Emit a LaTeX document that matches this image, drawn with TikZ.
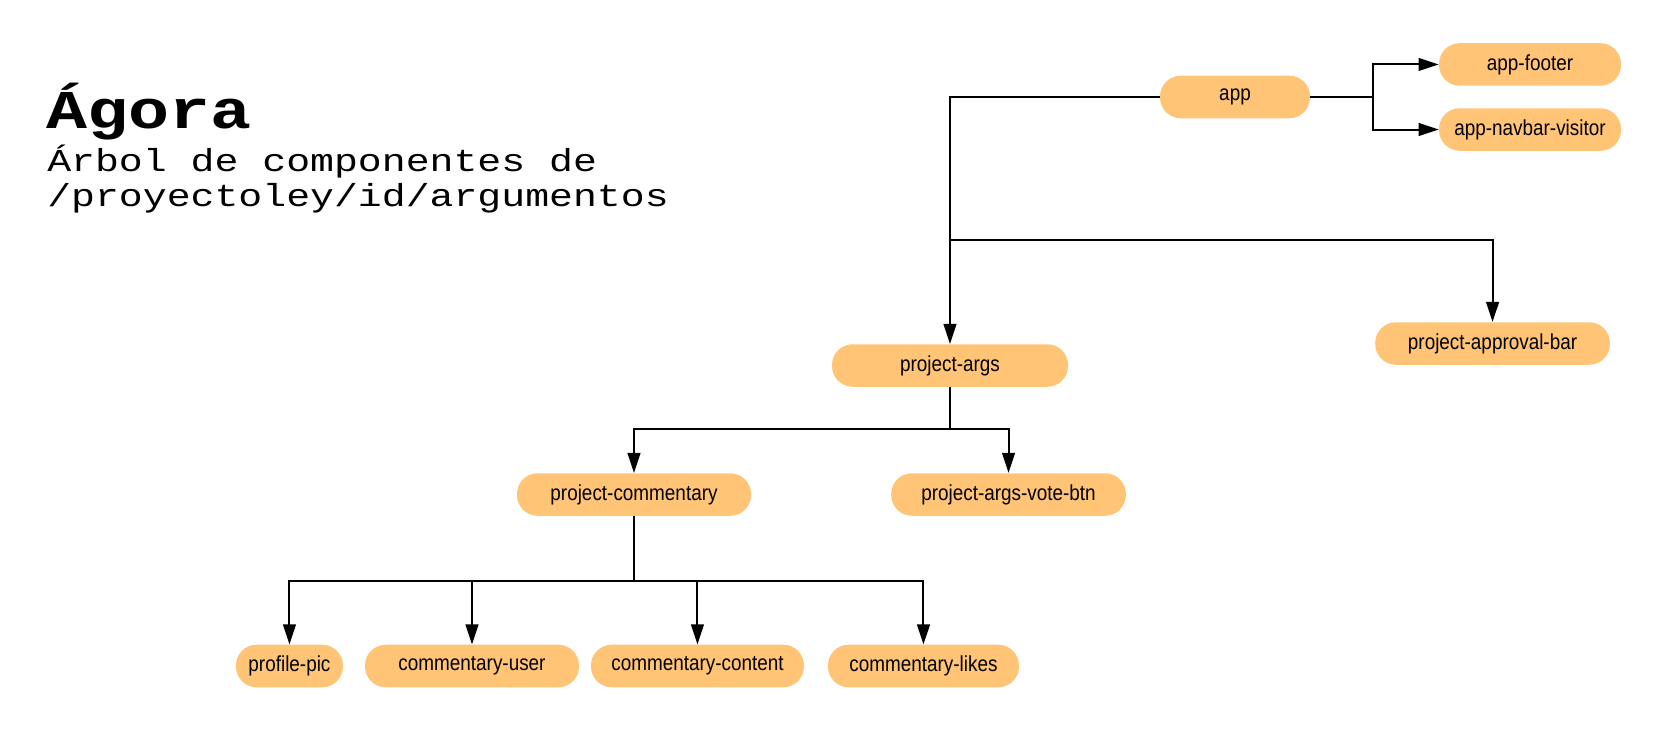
\documentclass[tikz,border=0pt]{standalone}
\usepackage{fontspec}
\setmainfont{Liberation Sans}[FakeStretch=0.87]
\newfontfamily\titlefont{Liberation Mono}[FakeStretch=1.25]
\usetikzlibrary{positioning,arrows.meta}
\definecolor{compfill}{RGB}{255,196,118}

\begin{document}
\begin{tikzpicture}[
         x=0.75pt, y=-0.75pt,
         comp/.style = {rectangle, rounded corners=15.5pt, fill=compfill,
         minimum height=31.9pt, minimum width=#1, inner sep=0pt,
         font=\fontsize{16.3}{19}\selectfont},
         link/.style = {line width=1.5pt, -{Triangle[length=15pt,width=9.5pt]}},
         trunk/.style = {line width=1.5pt},
         on grid
]
         \useasboundingbox (0,0) rectangle (1664,730);

         % title
         \node[anchor=base west, inner sep=0pt] (title) at (46,129)
         {\titlefont\bfseries\fontsize{41}{46}\selectfont Ágora};
         \node[anchor=base west, inner sep=0pt] (sub1) at (47,172)
         {\titlefont\fontsize{23.9}{27}\selectfont Árbol de componentes de};
         \node[anchor=base west, inner sep=0pt] (sub2) at (47,207)
         {\titlefont\fontsize{23.9}{27}\selectfont /proyectoley/id/argumentos};

         % root
         \node[comp=112.5pt] (app) at (1235,97) {app};
         \node[comp=136.5pt, above right=24.4pt and 221.25pt of app] (footer) {app-footer};
         \node[comp=136.5pt, below right=24.4pt and 221.25pt of app] (navbar) {app-navbar-visitor};

         % page level
         \node[comp=177pt, below left=201.4pt and 213.75pt of app] (args) {project-args};
         \node[comp=176pt, above right=16.5pt and 406.9pt of args] (approval) {project-approval-bar};

         \node[comp=175.5pt, below left=96.75pt and 237pt of args] (commentary) {project-commentary};
         \node[comp=176pt, below right=96.75pt and 43.9pt of args] (vote) {project-args-vote-btn};

         % commentary parts
         \node[comp=160.5pt, below left=128.6pt and 121.5pt of commentary] (cuser) {commentary-user};
         \node[comp=80.25pt, left=136.9pt of cuser] (profile) {profile-pic};
         \node[comp=159.75pt, right=169.1pt of cuser] (ccontent) {commentary-content};
         \node[comp=143.25pt, right=169.5pt of ccontent] (clikes) {commentary-likes};

         \coordinate (appfork) at (1373,97);
         \coordinate (split) at (950,240);

         \draw[link] (app.west) -| (args.north);
         \draw[link] (split) -| (approval.north);
         \draw[trunk] (app.east) -- (appfork);
         \draw[link] (appfork) |- (footer.west);
         \draw[link] (appfork) |- (navbar.west);

         \draw[link] (args.south) -- ++(0,42) -| (commentary.north);
         \draw[link] (args.south) -- ++(0,42) -| (vote.north);

         \foreach \part in {profile,cuser,ccontent,clikes}
            \draw[link] (commentary.south) -- ++(0,65) -| (\part.north);
\end{tikzpicture}
\end{document}
